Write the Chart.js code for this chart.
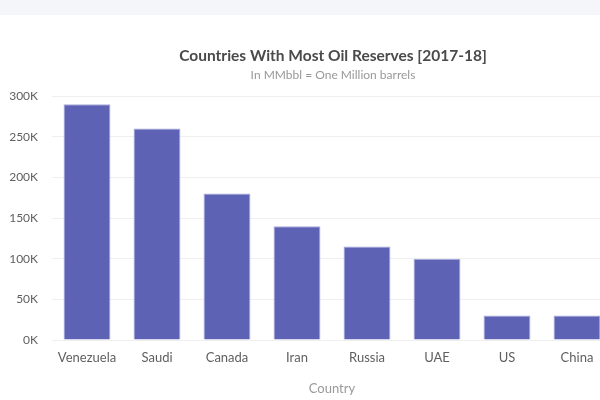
<!DOCTYPE html>
<html>
<head>
<meta charset="utf-8">
<script src="https://cdn.jsdelivr.net/npm/chart.js@4"></script>
<style>
    body { margin: 0; overflow: hidden; background: #fff; width: 600px; height: 400px; }
    .band { height: 15px; background: #f5f6fa; }
    .wrap { width: 666px; height: 385px; }
</style>
</head>
<body>
<div class="band"></div>
<div class="wrap"><canvas id="chart" width="666" height="385"></canvas></div>
<script>
// oil reserves, MMbbl
const countries = ['Venezuela', 'Saudi', 'Canada', 'Iran', 'Russia', 'UAE', 'US', 'China']
const reserves = [290000, 260000, 180000, 140000, 115000, 100000, 30000, 30000]
const yTicks = [0, 50000, 100000, 150000, 200000, 250000, 300000]

const fontName = "'Source Sans Pro', Lato, sans-serif"

const data = {
    labels: countries,
    datasets: [{
        label: 'Reserves',
        data: reserves,
        backgroundColor: '#5d62b5',
        borderColor: '#a7aadc',
        borderWidth: 1,
        barPercentage: 0.67,
        categoryPercentage: 1
    }]
}

const config = {
    type: 'bar',
    data: data,
    options: {
        responsive: false,
        animation: false,
        layout: { padding: 0 },
        plugins: {
            legend: { display: false },
            tooltip: { enabled: false },
            title: {
                display: true,
                text: 'Countries With Most Oil Reserves [2017-18]',
                color: '#4a4a4a',
                font: { family: fontName, size: 15.5, weight: 'bold' },
                padding: { top: 32, bottom: 0 }
            },
            subtitle: {
                display: true,
                text: 'In MMbbl = One Million barrels',
                color: '#999999',
                font: { family: fontName, size: 12 },
                padding: { top: 2.5, bottom: 13.5 }
            }
        },
        scales: {
            x: {
                grid: { display: false, drawTicks: false },
                border: { display: false },
                ticks: { color: '#5f5f5f', font: { family: fontName, size: 13 }, padding: 10 },
                title: {
                    display: true,
                    text: 'Country',
                    color: '#999999',
                    font: { family: fontName, size: 13 },
                    padding: { top: 0, bottom: 3 }
                },
                afterFit(scale) { scale.height = 60 }
            },
            y: {
                min: 0,
                max: 300000,
                grid: { color: '#efefef', drawTicks: false },
                border: { display: false },
                afterBuildTicks(scale) { scale.ticks = yTicks.map(v => ({ value: v })) },
                ticks: {
                    color: '#5f5f5f',
                    font: { family: fontName, size: 12 },
                    padding: 14,
                    callback: v => (v / 1000) + 'K'
                },
                afterFit(scale) { scale.width = 52 }
            },
            // empty right margin, keeps the title centred on the whole canvas
            yRight: {
                position: 'right',
                grid: { display: false, drawTicks: false },
                border: { display: false },
                ticks: { display: false },
                afterFit(scale) { scale.width = 54 }
            }
        }
    }
}

new Chart(document.getElementById('chart'), config)
</script>
</body>
</html>
